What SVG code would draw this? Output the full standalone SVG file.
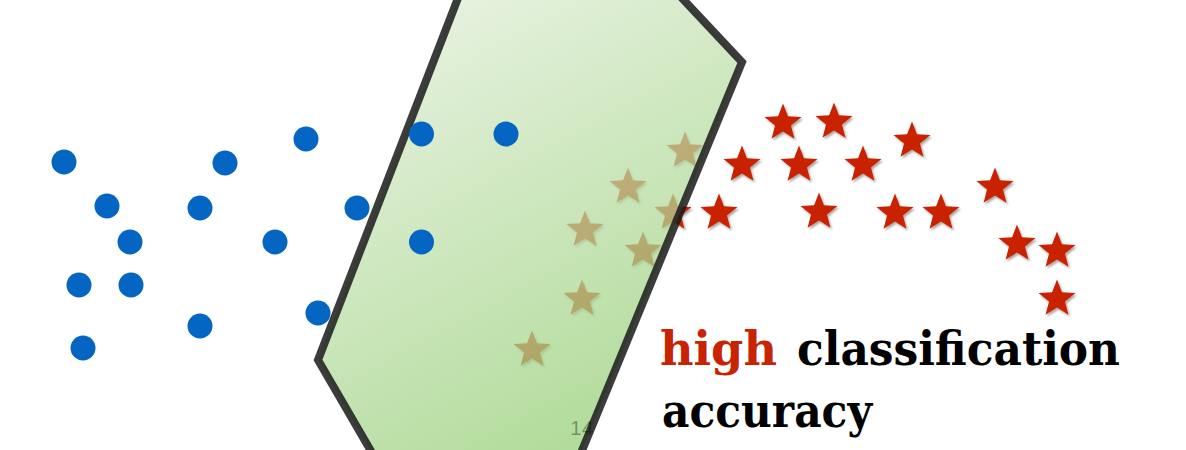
<svg xmlns="http://www.w3.org/2000/svg" width="1186" height="450" viewBox="0 0 1186 450">
  <style>
    .dot { fill: #0466c2; }
    .star { fill: #c92306; filter: url(#shadow); }
    .label { font-family: "DejaVu Serif", "Liberation Serif", serif; font-weight: bold; font-size: 46px; }
    .page { font-family: "Liberation Sans", Arial, sans-serif; font-size: 21px; fill: #000; fill-opacity: 0.35; }
  </style>
  <defs>
    <path id="starShape" d="M0,-19.5 L4.93,-6.79 L18.55,-6.03 L7.98,2.59 L11.46,15.78 L0,8.4 L-11.46,15.78 L-7.98,2.59 L-18.55,-6.03 L-4.93,-6.79 Z"/>
    <filter id="shadow" x="-30%" y="-30%" width="160%" height="160%">
      <feDropShadow dx="1.5" dy="2" stdDeviation="1.2" flood-color="#000" flood-opacity="0.35"/>
    </filter>
    <linearGradient id="greenFill" gradientUnits="userSpaceOnUse" x1="430" y1="20" x2="650" y2="430">
      <stop offset="0" stop-color="#dcecd1"/>
      <stop offset="1" stop-color="#94ce74"/>
    </linearGradient>
  </defs>

  <g id="stars">
    <use href="#starShape" class="star" x="783" y="123"/>
    <use href="#starShape" class="star" x="834" y="122"/>
    <use href="#starShape" class="star" x="912" y="141"/>
    <use href="#starShape" class="star" x="742" y="165"/>
    <use href="#starShape" class="star" x="799" y="165"/>
    <use href="#starShape" class="star" x="863" y="165"/>
    <use href="#starShape" class="star" x="719" y="213"/>
    <use href="#starShape" class="star" x="819" y="212"/>
    <use href="#starShape" class="star" x="895" y="213"/>
    <use href="#starShape" class="star" x="941" y="213"/>
    <use href="#starShape" class="star" x="995" y="187"/>
    <use href="#starShape" class="star" x="1017" y="244"/>
    <use href="#starShape" class="star" x="1057" y="251"/>
    <use href="#starShape" class="star" x="1057" y="299"/>
    <use href="#starShape" class="star" x="685" y="151"/>
    <use href="#starShape" class="star" x="628" y="187"/>
    <use href="#starShape" class="star" x="673" y="213"/>
    <use href="#starShape" class="star" x="585" y="230"/>
    <use href="#starShape" class="star" x="643" y="251"/>
    <use href="#starShape" class="star" x="582" y="299"/>
    <use href="#starShape" class="star" x="532" y="350"/>
  </g>

  <g id="region">
    <polygon points="465,-20 665,-20 742,62 574,470 382,470 318,360" fill="url(#greenFill)" fill-opacity="0.74" stroke="#1a1a1a" stroke-opacity="0.85" stroke-width="8" stroke-linejoin="miter"/>
  </g>

  <g id="dots">
    <circle class="dot" cx="64" cy="162" r="12.5"/>
    <circle class="dot" cx="225" cy="163" r="12.5"/>
    <circle class="dot" cx="306" cy="139" r="12.5"/>
    <circle class="dot" cx="421.5" cy="134" r="12.5"/>
    <circle class="dot" cx="506" cy="134" r="12.5"/>
    <circle class="dot" cx="107" cy="206" r="12.5"/>
    <circle class="dot" cx="200" cy="208" r="12.5"/>
    <circle class="dot" cx="357" cy="208" r="12.5"/>
    <circle class="dot" cx="130" cy="242" r="12.5"/>
    <circle class="dot" cx="275" cy="242" r="12.5"/>
    <circle class="dot" cx="421.5" cy="242" r="12.5"/>
    <circle class="dot" cx="79" cy="285" r="12.5"/>
    <circle class="dot" cx="131" cy="285" r="12.5"/>
    <circle class="dot" cx="200" cy="326" r="12.5"/>
    <circle class="dot" cx="318" cy="313" r="12.5"/>
    <circle class="dot" cx="83" cy="348" r="12.5"/>
  </g>

  <g id="caption">
    <text class="label" x="660" y="365" fill="#c92306" textLength="117" lengthAdjust="spacingAndGlyphs">high</text>
    <text class="label" x="797" y="365" fill="#000" textLength="323" lengthAdjust="spacingAndGlyphs">classification</text>
    <text class="label" x="662" y="427" fill="#000" textLength="210" lengthAdjust="spacingAndGlyphs">accuracy</text>
  </g>

  <g id="page-number">
    <text class="page" x="570" y="435">14</text>
  </g>
</svg>
